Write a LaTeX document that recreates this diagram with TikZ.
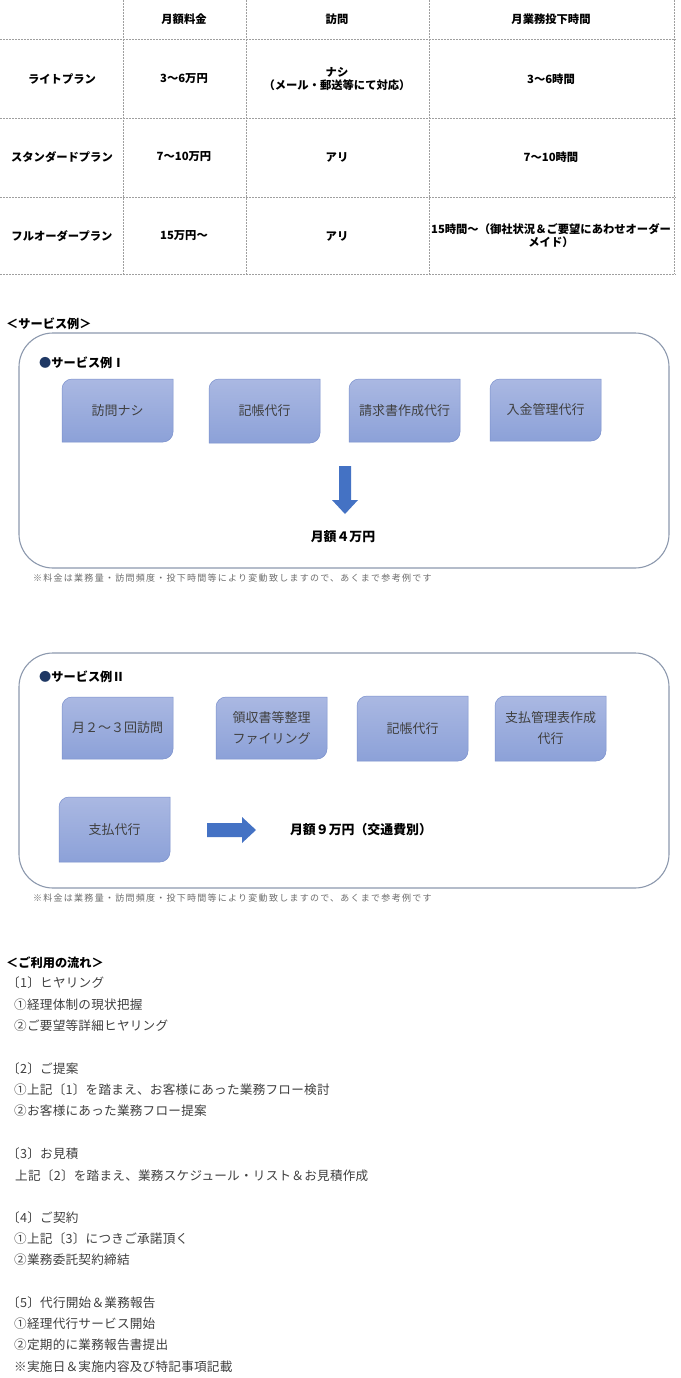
\documentclass[tikz,border=0pt]{standalone}
\usepackage{fontspec}
\setmainfont{Noto Sans CJK JP}
\newfontfamily\notefont{Noto Sans CJK JP}[LetterSpace=14]
\newfontfamily\flowfont{Noto Sans CJK JP}[LetterSpace=2]
\usetikzlibrary{calc}
\definecolor{boxtop}{HTML}{AAB8E2}
\definecolor{boxbot}{HTML}{8CA1D8}
\definecolor{boxedge}{HTML}{7A90CC}
\definecolor{arrowblue}{HTML}{4472C4}
\definecolor{framecol}{HTML}{8D99AE}
\definecolor{navy}{HTML}{1F3864}
\definecolor{txt}{HTML}{404040}
\tikzset{
 gridline/.style={draw=gray!75, line width=0.7pt, dash pattern=on 2pt off 1pt},
 cell/.style={font=\bfseries\fontsize{11.3}{13}\selectfont, align=center, inner sep=0pt},
 frameline/.style={draw=framecol, line width=1.1pt, rounded corners=34pt},
 svcshape/.style={top color=boxtop, bottom color=boxbot, draw=boxedge, line width=0.5pt},
 svctext/.style={font=\fontsize{13}{21}\selectfont, text=txt, align=center, inner sep=0pt},
 heading/.style={font=\bfseries\fontsize{12.2}{14}\selectfont, anchor=west, inner sep=0pt},
 notetext/.style={font=\notefont\fontsize{9}{11}\selectfont, text=gray!85!black, anchor=west, inner sep=0pt},
 flow/.style={font=\flowfont\fontsize{12.6}{14}\selectfont, text=txt, anchor=west, inner sep=0pt},
 result/.style={font=\bfseries\fontsize{12.9}{14}\selectfont, inner sep=0pt},
 bigarrow/.style={fill=arrowblue, draw=none},
}
% name x1 y1 x2 y2 text
\newcommand\svcbox[6]{%
 \path[svcshape] (#2,#5) -- (#2,{#3+10}) .. controls (#2,{#3+4.5}) and ({#2+4.5},#3) .. ({#2+10},#3)
   -- (#4,#3) -- (#4,{#5-10}) .. controls (#4,{#5-4.5}) and ({#4-4.5},#5) .. ({#4-10},#5) -- cycle;
 \node[svctext] (#1) at ({(#2+#4)/2},{(#3+#5)/2}) {#6};}
\begin{document}
\begin{tikzpicture}[x=1pt,y=-1pt]
\useasboundingbox (0,0) rectangle (680,1378);
\fill[white] (0,0) rectangle (680,1378);
% ---------- table ----------
\foreach \yy in {39,118,197,274} \draw[gridline] (0,\yy) -- (676,\yy);
\foreach \xx in {123,246,429,674} \draw[gridline] (\xx,0) -- (\xx,274);
\node[cell] (h2) at (184,19) {月額料金};
\node[cell] (h3) at (337,19) {訪問};
\node[cell] (h4) at (551,19) {月業務投下時間};
\node[cell] (r1c1) at (62,79) {ライトプラン};
\node[cell] (r1c2) at (184,79) {3～6万円};
\node[cell] (r1c3) at (337,79) {ナシ\\（メール・郵送等にて対応）};
\node[cell] (r1c4) at (551,79) {3～6時間};
\node[cell] (r2c1) at (62,157) {スタンダードプラン};
\node[cell] (r2c2) at (184,157) {7～10万円};
\node[cell] (r2c3) at (337,157) {アリ};
\node[cell] (r2c4) at (551,157) {7～10時間};
\node[cell] (r3c1) at (62,236) {フルオーダープラン};
\node[cell] (r3c2) at (184,236) {15万円～};
\node[cell] (r3c3) at (337,236) {アリ};
\node[cell] (r3c4) at (551,236) {15時間～（御社状況＆ご要望にあわせオーダー\\メイド）};
% ---------- service example I ----------
\node[heading] (svc) at (6,324) {＜サービス例＞};
\draw[frameline] (19,333) rectangle (669,568);
\node[heading] (t1) at (39,363) {\textcolor{navy}{●}サービス例Ⅰ};
\svcbox{a1}{62}{379}{173}{442}{訪問ナシ}
\svcbox{a2}{209}{379}{320}{443}{記帳代行}
\svcbox{a3}{349}{379}{460}{442}{請求書作成代行}
\svcbox{a4}{490}{379}{601}{441}{入金管理代行}
\path[bigarrow] (339,466) -- (351,466) -- (351,500) -- (358,500) -- (345,514) -- (332,500) -- (339,500) -- cycle;
\node[result] (p1) at (343,537) {月額４万円};
\node[notetext] (n1) at (33,578) {※料金は業務量・訪問頻度・投下時間等により変動致しますので、あくまで参考例です};
% ---------- service example II ----------
\draw[frameline] (19,653) rectangle (669,888);
\node[heading] (t2) at (39,677) {\textcolor{navy}{●}サービス例Ⅱ};
\svcbox{b1}{62}{697}{173}{759}{月２～３回訪問}
\svcbox{b2}{216}{697}{327}{759}{領収書等整理\\ファイリング}
\svcbox{b3}{357}{696}{468}{761}{記帳代行}
\svcbox{b4}{495}{696}{606}{761}{支払管理表作成\\代行}
\svcbox{b5}{59}{797}{170}{862}{支払代行}
\path[bigarrow] (207,823) -- (242,823) -- (242,817) -- (256,830) -- (242,843) -- (242,837) -- (207,837) -- cycle;
\node[result] (p2) at (361,830) {月額９万円（交通費別）};
\node[notetext] (n2) at (33,898) {※料金は業務量・訪問頻度・投下時間等により変動致しますので、あくまで参考例です};
% ---------- flow ----------
\node[heading] (fh) at (6,963) {＜ご利用の流れ＞};
\node[flow] (f1) at (7,983) {〔1〕ヒヤリング};
\node[flow] (f11) at (14,1005) {①経理体制の現状把握};
\node[flow] (f12) at (14,1026) {②ご要望等詳細ヒヤリング};
\node[flow] (f2) at (7,1069) {〔2〕ご提案};
\node[flow] (f21) at (14,1090) {①上記〔1〕を踏まえ、お客様にあった業務フロー検討};
\node[flow] (f22) at (14,1111) {②お客様にあった業務フロー提案};
\node[flow] (f3) at (7,1154) {〔3〕お見積};
\node[flow] (f31) at (15,1176) {上記〔2〕を踏まえ、業務スケジュール・リスト＆お見積作成};
\node[flow] (f4) at (7,1218) {〔4〕ご契約};
\node[flow] (f41) at (14,1239) {①上記〔3〕につきご承諾頂く};
\node[flow] (f42) at (14,1260) {②業務委託契約締結};
\node[flow] (f5) at (7,1303) {〔5〕代行開始＆業務報告};
\node[flow] (f51) at (14,1324) {①経理代行サービス開始};
\node[flow] (f52) at (14,1345) {②定期的に業務報告書提出};
\node[flow] (f53) at (14,1367) {※実施日＆実施内容及び特記事項記載};
\end{tikzpicture}
\end{document}
